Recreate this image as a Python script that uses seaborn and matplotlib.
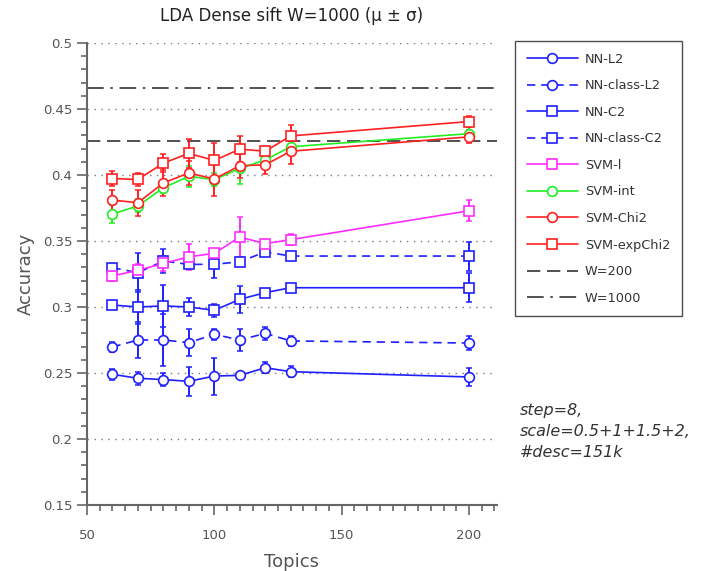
import numpy as np
import pandas as pd
import matplotlib
matplotlib.use("Agg")
import matplotlib.pyplot as plt
import seaborn as sns
from matplotlib.ticker import MultipleLocator

topics = [60, 70, 80, 90, 100, 110, 120, 130, 200]

nn_l2 = [0.249, 0.246, 0.245, 0.2437, 0.2477, 0.2482, 0.254, 0.251, 0.247]
nn_l2_err = [0.004, 0.005, 0.005, 0.011, 0.014, 0.002, 0.004, 0.004, 0.007]
nn_class_l2 = [0.2697, 0.275, 0.275, 0.273, 0.2793, 0.275, 0.280, 0.2743, 0.2727]
nn_class_l2_err = [0.004, 0.014, 0.020, 0.010, 0.004, 0.008, 0.005, 0.004, 0.005]
nn_c2 = [0.3015, 0.300, 0.3008, 0.300, 0.2975, 0.3058, 0.3109, 0.3146, 0.3146]
nn_c2_err = [0.002, 0.013, 0.016, 0.007, 0.005, 0.010, 0.002, 0.002, 0.011]
nn_class_c2 = [0.3298, 0.326, 0.3348, 0.3323, 0.3323, 0.3343, 0.3417, 0.3386, 0.3386]
nn_class_c2_err = [0.002, 0.015, 0.009, 0.003, 0.010, 0.003, 0.002, 0.002, 0.011]
svm_l = [0.3235, 0.3278, 0.333, 0.338, 0.3407, 0.353, 0.348, 0.351, 0.3729]
svm_l_err = [0.004, 0.005, 0.006, 0.010, 0.003, 0.015, 0.003, 0.004, 0.008]
svm_int = [0.3704, 0.3766, 0.3903, 0.399, 0.3965, 0.405, 0.4114, 0.4214, 0.4313]
svm_int_err = [0.007, 0.005, 0.004, 0.008, 0.005, 0.012, 0.004, 0.005, 0.005]
svm_chi2 = [0.381, 0.379, 0.394, 0.4015, 0.397, 0.407, 0.4077, 0.418, 0.4289]
svm_chi2_err = [0.008, 0.010, 0.010, 0.009, 0.013, 0.009, 0.007, 0.010, 0.005]
svm_expchi2 = [0.3973, 0.3966, 0.409, 0.4164, 0.411, 0.4196, 0.418, 0.4296, 0.4405]
svm_expchi2_err = [0.006, 0.005, 0.007, 0.011, 0.013, 0.010, 0.003, 0.008, 0.004]

w200 = 0.426
w1000 = 0.466

series_names = ["NN-L2", "NN-class-L2", "NN-C2", "NN-class-C2", "SVM-l",
                "SVM-int", "SVM-Chi2", "SVM-expChi2"]
series_vals = [nn_l2, nn_class_l2, nn_c2, nn_class_c2, svm_l, svm_int, svm_chi2, svm_expchi2]
series_errs = [nn_l2_err, nn_class_l2_err, nn_c2_err, nn_class_c2_err, svm_l_err,
               svm_int_err, svm_chi2_err, svm_expchi2_err]

BLUE = "#1f1fff"
MAG = "#ff2cff"
GREEN = "#22ee22"
RED = "#ff2020"
styles = {
    "NN-L2": (BLUE, "o", "-"),
    "NN-class-L2": (BLUE, "o", (0, (5, 3.5))),
    "NN-C2": (BLUE, "s", "-"),
    "NN-class-C2": (BLUE, "s", (0, (5, 3.5))),
    "SVM-l": (MAG, "s", "-"),
    "SVM-int": (GREEN, "o", "-"),
    "SVM-Chi2": (RED, "o", "-"),
    "SVM-expChi2": (RED, "s", "-"),
}

sns.set_theme(style="white")
plt.rcParams["font.family"] = ["DejaVu Sans"]

fig = plt.figure(figsize=(7.08, 5.71), dpi=100)
ax = fig.add_axes([87 / 708, 1 - 505 / 571, 410 / 708, 462 / 571])

ax.axhline(w200, color="#333333", lw=1.2, ls=(0, (8, 4)), label="W=200", zorder=1)
ax.axhline(w1000, color="#333333", lw=1.2, ls=(0, (10, 4, 1.5, 4)), label="W=1000", zorder=1)

for name, vals, errs in zip(series_names, series_vals, series_errs):
    color, marker, ls = styles[name]
    df = pd.DataFrame({"Topics": topics, "Accuracy": vals})
    ax.errorbar(topics, vals, yerr=errs, fmt="none", ecolor=color, elinewidth=1.4,
                capsize=2, capthick=1.1, zorder=2)
    sns.lineplot(data=df, x="Topics", y="Accuracy", ax=ax, color=color, lw=1.2,
                 linestyle=ls, marker=marker, markersize=7 if marker == "o" else 6.5,
                 markerfacecolor="white", markeredgecolor=color, markeredgewidth=1.2,
                 label=name, zorder=3, legend=False)

ax.set_xlim(50, 211)
ax.set_ylim(0.15, 0.5)
ax.set_yticks([0.15, 0.2, 0.25, 0.3, 0.35, 0.4, 0.45, 0.5])
ax.set_yticklabels(["0.15", "0.2", "0.25", "0.3", "0.35", "0.4", "0.45", "0.5"])
ax.set_xticks([50, 100, 150, 200])
ax.xaxis.set_minor_locator(MultipleLocator(5))
ax.yaxis.set_minor_locator(MultipleLocator(0.01))
ax.tick_params(axis="both", which="major", direction="out", length=7, width=1.2,
               color="#666666", labelcolor="#555555", labelsize=9.5, left=True, bottom=True)
ax.tick_params(axis="both", which="minor", direction="out", length=4, width=1.2,
               color="#666666", left=True, bottom=True)
ax.tick_params(axis="x", which="major", pad=10)

for y in [0.2, 0.25, 0.3, 0.35, 0.4, 0.45, 0.5]:
    ax.axhline(y, color="#777777", lw=1.0, ls=(0, (1, 4)), zorder=0)

for s in ["top", "right"]:
    ax.spines[s].set_visible(False)
for s in ["left", "bottom"]:
    ax.spines[s].set_color("#666666")
    ax.spines[s].set_linewidth(1.5)

ax.set_title("LDA Dense sift W=1000 (\u03bc \u00b1 \u03c3)", fontsize=12, color="#222222", pad=16)
ax.set_xlabel("Topics", fontsize=13, color="#555555", labelpad=8)
ax.set_ylabel("Accuracy", fontsize=13, color="#555555", labelpad=6)

handles, labels = ax.get_legend_handles_labels()
order = series_names + ["W=200", "W=1000"]
hmap = dict(zip(labels, handles))
leg = ax.legend([hmap[k] for k in order], order, loc="upper left",
                bbox_to_anchor=(515 / 708, 1 - 41 / 571), bbox_transform=fig.transFigure,
                fontsize=9.3, frameon=True, fancybox=False, edgecolor="#222222",
                handlelength=4.0, handletextpad=0.5, labelspacing=1.05,
                borderpad=0.9, borderaxespad=0)
leg.get_frame().set_linewidth(1.0)
for t in leg.get_texts():
    t.set_color("#333333")

fig.text(520 / 708, 1 - 403 / 571, "step=8,\nscale=0.5+1+1.5+2,\n#desc=151k",
         fontsize=11.5, style="italic", color="#333333", va="top", ha="left",
         linespacing=1.5)

fig.savefig("out.png", dpi=100)
